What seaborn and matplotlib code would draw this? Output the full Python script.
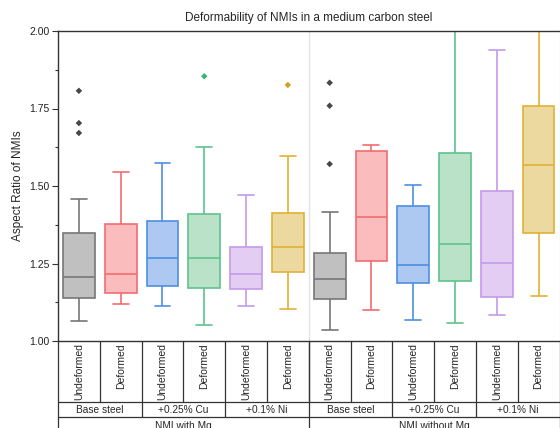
import numpy as np
import pandas as pd
import seaborn as sns
import matplotlib.pyplot as plt
from matplotlib.ticker import MultipleLocator, FormatStrFormatter

title = "Deformability of NMIs in a medium carbon steel"
ylabel = "Aspect Ratio of NMIs"
states = ["Undeformed", "Deformed"] * 6
alloys = ["Base steel", "+0.25% Cu", "+0.1% Ni"] * 2
groups = ["NMI with Mg", "NMI without Mg"]

# five-number summaries, one entry per box
whisker_low = [1.064, 1.118, 1.112, 1.052, 1.113, 1.103, 1.035, 1.101, 1.068, 1.058, 1.083, 1.144]
q1 = [1.139, 1.156, 1.176, 1.170, 1.169, 1.223, 1.135, 1.259, 1.186, 1.194, 1.142, 1.347]
median = [1.207, 1.217, 1.269, 1.267, 1.215, 1.302, 1.199, 1.399, 1.245, 1.312, 1.251, 1.569]
q3 = [1.347, 1.376, 1.388, 1.409, 1.304, 1.412, 1.283, 1.612, 1.434, 1.605, 1.484, 1.758]
whisker_high = [1.459, 1.544, 1.574, 1.626, 1.471, 1.597, 1.417, 1.631, 1.504, 2.15, 1.938, 2.20]

# outliers (box index, value)
outlier_box = [0, 0, 0, 3, 5, 6, 6, 6]
outlier_val = [1.807, 1.703, 1.671, 1.854, 1.826, 1.833, 1.759, 1.571]

face_colors = ["#c0c0c0", "#fbbcbd", "#adc9f1", "#b9e2c9", "#e3cdf3", "#ecd9a0"] * 2
edge_colors = ["#777777", "#f26c6f", "#4d8fe3", "#5dc38b", "#c39ae9", "#e0b135"] * 2
dot_colors = ["#474747", "#f26c6f", "#4d8fe3", "#3cb371", "#c39ae9", "#d4a020"] * 2

sns.set_style("ticks")
plt.rcParams["font.family"] = ["Liberation Sans", "DejaVu Sans"]

keys = ["b%d" % i for i in range(len(states))]
rows = []
for i, k in enumerate(keys):
    for v in (whisker_low[i], q1[i], median[i], q3[i], whisker_high[i]):
        rows.append((k, v))
df = pd.DataFrame(rows, columns=["box", "value"])

fig = plt.figure(figsize=(5.6, 4.28), dpi=100)
ax = fig.add_axes([58 / 560, 1 - 341 / 428, 501.5 / 560, 310 / 428])

ax.axvline(5.5, color="#e4e4e4", lw=1, zorder=0)

for i, k in enumerate(keys):
    sns.boxplot(data=df[df.box == k], x="box", y="value", order=keys,
                color=face_colors[i], linecolor=edge_colors[i], saturation=1,
                width=0.76, whis=np.inf, linewidth=1.2, fliersize=0, ax=ax)

ax.scatter(outlier_box, outlier_val, marker="D", s=11,
           color=[dot_colors[b] for b in outlier_box], zorder=5, linewidths=0)

ax.set_xlim(-0.5, 11.5)
ax.set_ylim(1.0, 2.0)
ax.set_xlabel("")
ax.set_ylabel(ylabel, fontsize=8.5, labelpad=3.5)
ax.set_title(title, fontsize=8.5, pad=7)
ax.yaxis.set_major_locator(MultipleLocator(0.25))
ax.yaxis.set_minor_locator(MultipleLocator(0.125))
ax.yaxis.set_major_formatter(FormatStrFormatter("%.2f"))
ax.tick_params(axis="y", which="major", length=4, width=0.8, labelsize=7.5,
               color="#333333", labelcolor="#222222", pad=2)
ax.tick_params(axis="y", which="minor", length=2.5, width=0.8, color="#333333")
ax.tick_params(axis="x", bottom=False, labelbottom=False)
for s in ["left", "top", "bottom"]:
    ax.spines[s].set_color("#333333")
    ax.spines[s].set_linewidth(1)
ax.spines["right"].set_visible(True)
ax.spines["right"].set_color("#bbbbbb")

# category table under the axis
trans = ax.get_xaxis_transform()
row1 = -(402 - 341) / 310
row2 = -(417.3 - 341) / 310
lc = "#333333"
for y in (row1, row2):
    ax.plot([-0.5, 11.5], [y, y], color=lc, lw=0.9, transform=trans, clip_on=False)
for k in range(1, 12):
    ax.plot([k - 0.5, k - 0.5], [0, row1], color=lc, lw=0.9, transform=trans, clip_on=False)
for x in (1.5, 3.5, 7.5, 9.5):
    ax.plot([x, x], [row1, row2], color=lc, lw=0.9, transform=trans, clip_on=False)
for x in (-0.5, 5.5, 11.5):
    ax.plot([x, x], [0, -0.4], color=lc, lw=0.9, transform=trans, clip_on=False)

for i, s in enumerate(states):
    ax.text(i, -0.008, s, rotation=90, ha="center", va="top", fontsize=7.5,
            transform=trans)
for j, a in enumerate(alloys):
    ax.text(2 * j + 0.5, (row1 + row2) / 2, a, ha="center", va="center",
            fontsize=7.3, transform=trans)
for j, g in enumerate(groups):
    ax.text(6 * j + 2.5, row2 - 0.013, g, ha="center", va="top",
            fontsize=7.3, transform=trans)

fig.savefig("out.png", dpi=100)
